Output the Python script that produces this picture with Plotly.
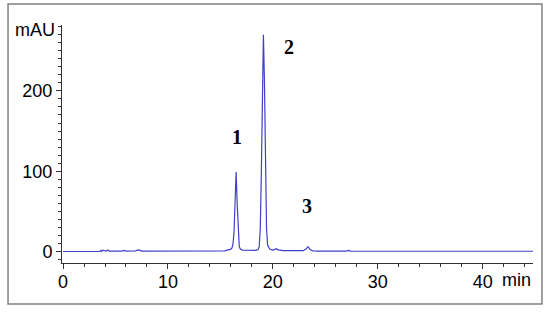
import plotly.graph_objects as go

# chromatogram (min, mAU)
time = [0, 3.5, 3.6, 3.7, 3.8, 4.1, 4.25, 4.4, 5.6, 5.8, 6.0, 6.9, 7.2, 7.5,
        15.4, 15.8, 16.0, 16.1, 16.2, 16.3, 16.4, 16.5, 16.6, 16.7, 16.8, 16.9, 17.1,
        18.4, 18.6, 18.7, 18.8, 18.9, 19.0, 19.1, 19.2, 19.3, 19.4, 19.5, 19.7,
        20.0, 20.2, 20.35, 20.5, 21.0, 22.9, 23.15, 23.35, 23.55, 23.8, 24.2,
        27.0, 27.2, 27.4, 35.0, 36.5, 37.0, 38.0, 45.0]
signal = [0, 0, 1.5, 0.3, 1.8, 0.5, 2.0, 0.6, 0.6, 1.4, 0.6, 0.8, 2.0, 0.6,
          0.8, 2.0, 3.0, 4.5, 9, 25, 65, 99, 60, 20, 6, 3, 1.8,
          1.5, 2.5, 6, 28, 95, 215, 270, 210, 95, 28, 8, 3,
          1.8, 2.5, 3.5, 2.0, 1.0, 1.0, 3.0, 6.0, 2.5, 0.8, 0.5,
          0.5, 1.3, 0.5, 0.3, 0.8, 0.2, 0.7, 0.3]

peak_names = ["1", "2", "3"]
peak_x = [16.6, 21.5, 23.3]
peak_y = [143, 254, 57]

fig = go.Figure()
fig.add_trace(go.Scatter(x=time, y=signal, mode="lines",
                         line=dict(color="#4040c8", width=1.2), showlegend=False))

for name, px_, py_ in zip(peak_names, peak_x, peak_y):
    fig.add_annotation(x=px_, y=py_, text="<b>" + name + "</b>", showarrow=False,
                       font=dict(family="Liberation Serif", size=20, color="black"))

fig.add_annotation(xref="paper", yref="paper", x=-0.01, y=0.98, text="mAU",
                   showarrow=False, xanchor="right", yanchor="middle",
                   font=dict(family="Liberation Sans", size=18, color="black"))
fig.add_annotation(xref="paper", yref="paper", x=1.0, y=-0.072, text="min",
                   showarrow=False, xanchor="right", yanchor="middle",
                   font=dict(family="Liberation Sans", size=18, color="black"))

# outer frame
fig.add_shape(type="rect", xref="paper", yref="paper",
              x0=-0.1146, x1=1.019, y0=-0.172, y1=1.088,
              line=dict(color="#808080", width=1.5))

fig.update_xaxes(range=[-0.1, 44.8], tickvals=[0, 10, 20, 30, 40],
                 ticktext=["0", "10", "20", "30", "40"],
                 showline=True, linecolor="#333", linewidth=1, showgrid=False,
                 zeroline=False, ticks="outside", ticklen=5, tickcolor="#333",
                 ticklabelstandoff=-3,
                 minor=dict(dtick=2, ticklen=3, ticks="outside", tickcolor="#333", showgrid=False),
                 tickfont=dict(family="Liberation Sans", size=18, color="black"))
fig.update_yaxes(range=[-14.3, 282], tickvals=[0, 100, 200],
                 showline=True, linecolor="#333", linewidth=1, showgrid=False,
                 zeroline=False, ticks="outside", ticklen=5, tickcolor="#333",
                 minor=dict(dtick=10, ticklen=3, ticks="outside", tickcolor="#333", showgrid=False),
                 tickfont=dict(family="Liberation Sans", size=18, color="black"))

fig.update_layout(width=550, height=314, margin=dict(l=62, r=17, t=25, b=51),
                  plot_bgcolor="white", paper_bgcolor="white")

fig.write_html("out.html", config={"displayModeBar": False},
               post_script="document.body.style.margin='0';")
